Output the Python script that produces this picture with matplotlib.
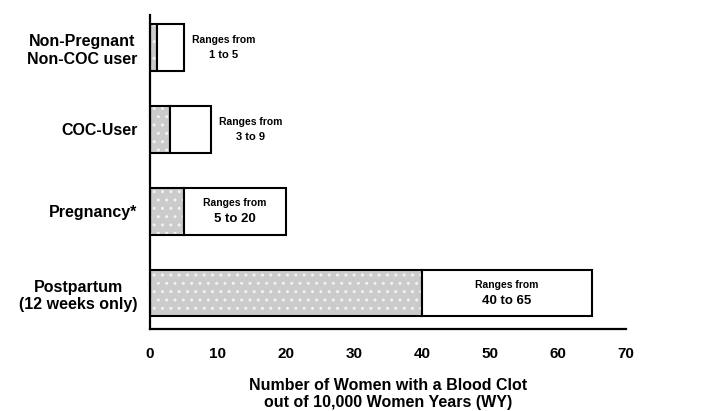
import matplotlib.pyplot as plt

plt.rcParams['font.family'] = ['Liberation Sans', 'DejaVu Sans']
plt.rcParams['hatch.linewidth'] = 1.0

# data (top to bottom)
categories = ['Non-Pregnant\nNon-COC user', 'COC-User', 'Pregnancy*', 'Postpartum\n(12 weeks only)']
low_values = [1, 3, 5, 40]
high_values = [5, 9, 20, 65]
range_lines = ['1 to 5', '3 to 9', '5 to 20', '40 to 65']
label_inside = [False, False, True, True]
x_ticks = [0, 10, 20, 30, 40, 50, 60, 70]

fig = plt.figure(figsize=(7.01, 4.11), dpi=100)
ax = fig.add_axes([150 / 701, 82 / 411, 476 / 701, 314 / 411])

ypos = list(range(len(categories) - 1, -1, -1))
bar_h = 0.57

# grey dotted part: 0 -> low value (fill with light dots, then black outline)
ax.barh(ypos, low_values, height=bar_h, color='#cbcbcb', edgecolor='#f2f2f2',
        linewidth=0, hatch='..')
ax.barh(ypos, low_values, height=bar_h, fill=False, edgecolor='black', linewidth=1.5)
# white part: low -> high value
widths = [h - l for l, h in zip(low_values, high_values)]
ax.barh(ypos, widths, left=low_values, height=bar_h, color='white',
        edgecolor='black', linewidth=1.5)

for y, lo, hi, txt, inside in zip(ypos, low_values, high_values, range_lines, label_inside):
    if inside:
        xc = (lo + hi) / 2
        size2 = 9.5
    else:
        xc = hi + 5.8
        size2 = 8
    ax.text(xc, y + 0.095, 'Ranges from', ha='center', va='center', fontsize=7.5,
            fontweight='bold')
    ax.text(xc, y - 0.095, txt, ha='center', va='center', fontsize=size2,
            fontweight='bold')

ax.set_xlim(0, 70)
ax.set_ylim(-0.44, 3.40)
ax.set_xticks(x_ticks)
ax.set_xticklabels([str(t) for t in x_ticks], fontsize=11, fontweight='bold')
ax.set_yticks(ypos)
ax.set_yticklabels(categories, fontsize=11.5, fontweight='bold', multialignment='center')
ax.tick_params(axis='x', length=0, pad=13)
ax.tick_params(axis='y', length=0, pad=9)

ax.spines['top'].set_visible(False)
ax.spines['right'].set_visible(False)
ax.spines['left'].set_linewidth(1.6)
ax.spines['bottom'].set_linewidth(1.6)

ax.set_xlabel('Number of Women with a Blood Clot\nout of 10,000 Women Years (WY)',
              fontsize=11.5, fontweight='bold', labelpad=12, linespacing=1.15)

plt.savefig('out.png', dpi=100)
plt.close()
